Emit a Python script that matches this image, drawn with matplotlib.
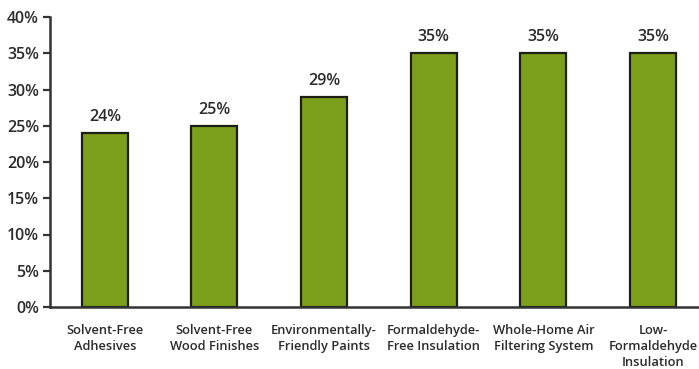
import matplotlib.pyplot as plt
import numpy as np

categories = ["Solvent-Free\nAdhesives", "Solvent-Free\nWood Finishes",
              "Environmentally-\nFriendly Paints", "Formaldehyde-\nFree Insulation",
              "Whole-Home Air\nFiltering System", "Low-\nFormaldehyde\nInsulation"]
values = [24, 25, 29, 35, 35, 35]
yticks = [0, 5, 10, 15, 20, 25, 30, 35, 40]

plt.rcParams['font.family'] = ['Open Sans', 'DejaVu Sans']
txt = '#2b2b2b'

fig = plt.figure(figsize=(6.99, 3.69), dpi=100)
ax = fig.add_axes([50/699, 62/369, 649/699, 290/369])

x = np.arange(len(values))
ax.bar(x, values, width=0.42, color='#7ca01c', edgecolor='#1e1e12', linewidth=1.6)

for xi, v in zip(x, values):
	ax.text(xi, v + 1.1, "%d%%" % v, ha='center', va='bottom', fontsize=11.5,
			fontweight='semibold', color=txt)

ax.set_xlim(-0.5, 5.42)
ax.set_ylim(0, 40)
ax.set_yticks(yticks)
ax.set_yticklabels(["%d%%" % t for t in yticks], fontsize=11.5, fontweight='semibold', color=txt)
ax.set_xticks(x)
ax.set_xticklabels(categories, fontsize=9.3, fontweight='semibold', color=txt, linespacing=1.3)
ax.tick_params(axis='x', length=0, pad=12)
ax.tick_params(axis='y', length=5, width=1.6, color='#333333', pad=3)

for s in ['top', 'right']:
	ax.spines[s].set_visible(False)
for s in ['left', 'bottom']:
	ax.spines[s].set_linewidth(1.8)
	ax.spines[s].set_color('#333333')

fig.savefig('out.png', dpi=100)
